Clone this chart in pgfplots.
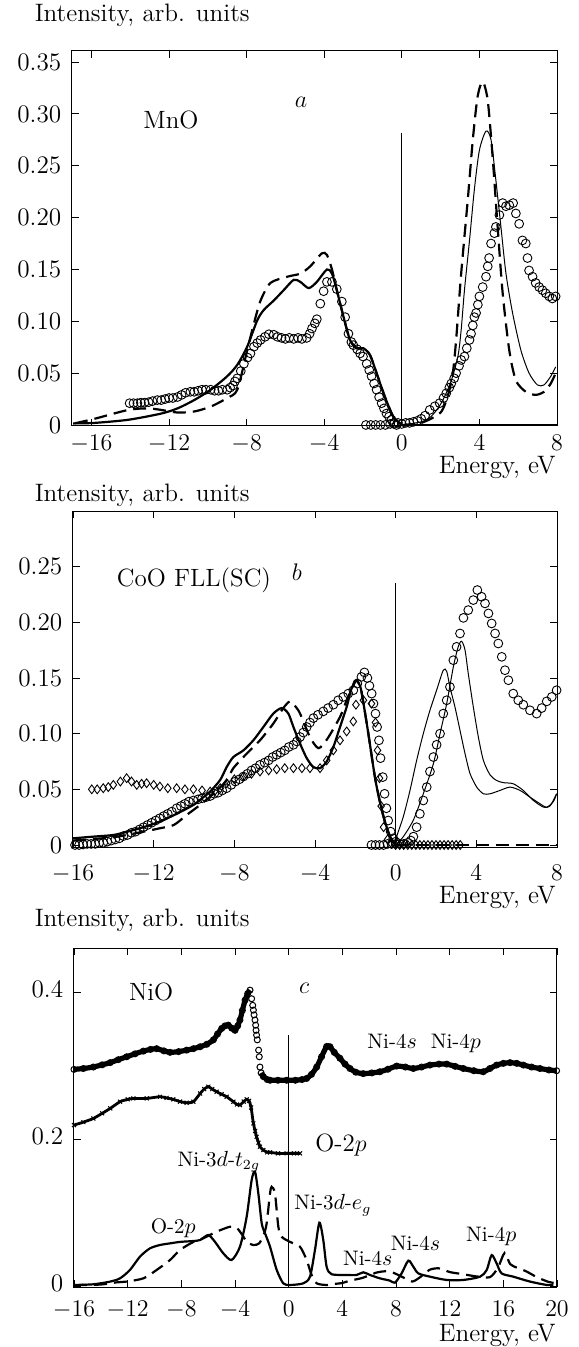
\documentclass[border=0pt]{standalone}
\usepackage{pgfplots}
\pgfplotsset{compat=1.18}
\newcommand{\bigf}{\fontsize{12.6}{15}\selectfont}
\newcommand{\midf}{\fontsize{12.5}{15}\selectfont}
\newcommand{\smf}{\fontsize{10.5}{12.5}\selectfont}
\pgfplotsset{
 panel/.style={scale only axis, anchor=south west, clip=false, tick align=inside,
   major tick length=3.5pt, every tick/.style={black, line width=0.45pt},
   axis line style={line width=0.5pt}, xtick pos=both, ytick pos=both,
   ticklabel style={font=\bigf, inner sep=1.5pt},
   yticklabel style={xshift=-3.7pt}},
 thk/.style={black, line width=1.1pt, smooth, tension=0.45, no marks},
 thn/.style={black, line width=0.5pt, smooth, tension=0.45, no marks},
 dsh/.style={black, line width=1.1pt, dash pattern=on 6.5pt off 3.5pt, smooth, tension=0.45, no marks},
 circ/.style={only marks, mark=o, mark size=2.2pt, mark options={line width=0.45pt, black}},
 diam/.style={only marks, mark=diamond, mark size=2.2pt, mark options={line width=0.45pt, black}},
}
\begin{document}
\begin{tikzpicture}
\useasboundingbox (0,0) rectangle (289pt,-673.5pt);
\tikzset{lbl/.style={font=\bigf, inner sep=1pt}}
\node[lbl, anchor=west] at (16.2pt,-7.8pt) {Intensity, arb. units};
\node[lbl, anchor=east] at (279pt,-233.5pt) {Energy, eV};
\node[lbl, anchor=west] at (16.2pt,-247.5pt) {Intensity, arb. units};
\node[lbl, anchor=east] at (279pt,-448.5pt) {Energy, eV};
\node[lbl, anchor=west] at (16.2pt,-460pt) {Intensity, arb. units};
\node[lbl, anchor=east] at (279pt,-667.5pt) {Energy, eV};

% ---------------- panel a ----------------
\begin{axis}[panel, at={(36pt,-213pt)}, width=242.5pt, height=187.5pt,
  xmin=-17, xmax=8, ymin=-0.001, ymax=0.3607,
  xtick={-16,-12,-8,-4,0,4,8},
  xticklabel style={yshift=-2.7pt},
  ytick={0,0.05,0.10,0.15,0.20,0.25,0.30,0.35},
  yticklabels={0,0.05,0.10,0.15,0.20,0.25,0.30,0.35}]
\addplot[black, line width=0.5pt] coordinates {(0,0) (0,0.2816)};
\node[font=\midf] at (axis cs:-11.9,0.294) {MnO};
\node[font=\midf] at (axis cs:-5.2,0.311) {$a$};
\addplot[thk] coordinates {(-16.94,0.0015) (-15.83,0.002) (-14.1,0.005) (-12.4,0.011) (-11.56,0.016) (-10.7,0.024) (-9.85,0.034) (-9.0,0.047) (-8.48,0.058) (-7.97,0.0755) (-7.45,0.101) (-7.11,0.111) (-6.6,0.120) (-6.09,0.130) (-5.57,0.140) (-5.23,0.138) (-4.8,0.132) (-4.38,0.138) (-3.86,0.150) (-3.6,0.146) (-3.35,0.130) (-3.0,0.104) (-2.67,0.082) (-2.32,0.074) (-1.98,0.074) (-1.64,0.0675) (-1.3,0.050) (-0.87,0.027) (-0.44,0.008) (-0.1,0.0016) (0,0)};
\addplot[black, line width=1.1pt] coordinates {(0,0) (8,0)};
\addplot[dsh] coordinates {(-16.85,0.0016) (-15.83,0.006) (-14.1,0.0145) (-13.1,0.016) (-12.4,0.0145) (-11.56,0.012) (-10.7,0.013) (-9.85,0.0177) (-9.0,0.026) (-8.48,0.034) (-7.97,0.072) (-7.62,0.098) (-7.28,0.12) (-6.77,0.137) (-5.9,0.143) (-5.23,0.146) (-4.72,0.153) (-4.12,0.1655) (-3.86,0.164) (-3.6,0.150) (-3.35,0.130) (-3.0,0.104) (-2.67,0.082) (-2.32,0.074) (-1.98,0.074) (-1.64,0.0675) (-1.3,0.050) (-0.87,0.027) (-0.44,0.008) (0,0)};
\addplot[thn] coordinates {(0,0) (1,0.003) (1.5,0.008) (2,0.02) (2.5,0.04) (2.89,0.066) (3.06,0.0916) (3.23,0.130) (3.49,0.178) (3.74,0.227) (4.0,0.265) (4.34,0.2835) (4.6,0.275) (4.85,0.236) (5.11,0.191) (5.37,0.146) (5.71,0.108) (6.14,0.072) (6.56,0.050) (6.99,0.0386) (7.33,0.0386) (7.68,0.047) (7.93,0.056)};
\addplot[dsh] coordinates {(0,0) (1,0.002) (2,0.012) (2.4,0.03) (2.63,0.05) (2.8,0.082) (3.06,0.146) (3.4,0.217) (3.66,0.275) (3.91,0.317) (4.17,0.331) (4.43,0.313) (4.68,0.259) (4.94,0.191) (5.2,0.127) (5.54,0.072) (5.88,0.043) (6.39,0.032) (6.9,0.029) (7.33,0.032) (7.68,0.040) (7.93,0.050)};
\addplot[circ] coordinates {(-14.03,0.021) (-13.83,0.021) (-13.63,0.021) (-13.45,0.0215) (-13.26,0.0215) (-13.05,0.022) (-12.85,0.023) (-12.6,0.024) (-12.4,0.024) (-12.2,0.025) (-12.0,0.026) (-11.8,0.026) (-11.56,0.027) (-11.35,0.029) (-11.15,0.031) (-10.9,0.032) (-10.7,0.032) (-10.5,0.033) (-10.3,0.034) (-10.1,0.034) (-9.85,0.034) (-9.65,0.033) (-9.45,0.033) (-9.25,0.034) (-9.0,0.034) (-8.85,0.036) (-8.7,0.038) (-8.6,0.042) (-8.48,0.045) (-8.3,0.052) (-8.14,0.059) (-7.95,0.065) (-7.8,0.069) (-7.62,0.0755) (-7.45,0.079) (-7.28,0.082) (-7.05,0.085) (-6.85,0.0875) (-6.6,0.087) (-6.4,0.085) (-6.2,0.084) (-6.0,0.083) (-5.8,0.084) (-5.57,0.083) (-5.35,0.084) (-5.15,0.083) (-4.9,0.084) (-4.75,0.088) (-4.63,0.093) (-4.48,0.098) (-4.38,0.102) (-4.2,0.117) (-4.03,0.129) (-3.86,0.138) (-3.6,0.138) (-3.35,0.131) (-3.09,0.119) (-2.92,0.104) (-2.75,0.088) (-2.6,0.080) (-2.5,0.077) (-2.3,0.073) (-2.15,0.069) (-2.0,0.066) (-1.81,0.059) (-1.68,0.053) (-1.56,0.047) (-1.43,0.040) (-1.3,0.034) (-1.17,0.027) (-1.04,0.021) (-0.92,0.016) (-0.79,0.011) (-0.66,0.008) (-0.53,0.005) (-0.4,0.002) (-0.27,0)};
\addplot[circ] coordinates {(-1.85,0) (-1.6,0) (-1.35,0) (-1.1,0) (-0.85,0) (-0.6,0.001) (-0.4,0.001) (-0.2,0.002) (0,0.001) (0.2,0.002) (0.4,0.002) (0.6,0.003) (0.8,0.004) (1.0,0.006) (1.2,0.009) (1.44,0.0145) (1.7,0.018) (1.95,0.021) (2.15,0.026) (2.29,0.0305) (2.45,0.036) (2.55,0.040) (2.7,0.045) (2.8,0.050) (2.95,0.057) (3.06,0.0627) (3.23,0.066) (3.35,0.074) (3.49,0.082) (3.57,0.088) (3.66,0.096) (3.74,0.104) (3.83,0.108) (3.92,0.116) (4.0,0.124) (4.17,0.133) (4.34,0.143) (4.43,0.153) (4.5,0.161) (4.6,0.175) (4.77,0.185) (4.85,0.191) (5.03,0.2025) (5.2,0.214) (5.37,0.211) (5.54,0.212) (5.74,0.214) (5.88,0.204) (6.05,0.194) (6.22,0.178) (6.39,0.175) (6.48,0.161) (6.56,0.149) (6.74,0.143) (6.9,0.137) (7.08,0.133) (7.25,0.130) (7.42,0.127) (7.6,0.124) (7.76,0.122) (7.93,0.124)};
\end{axis}

% ---------------- panel b ----------------
\begin{axis}[panel, at={(36.5pt,-423.5pt)}, width=242pt, height=168pt,
  xmin=-16, xmax=8, ymin=-0.0018, ymax=0.30,
  xtick={-16,-12,-8,-4,0,4,8},
  xticklabel style={yshift=-7.2pt},
  ytick={0,0.05,0.10,0.15,0.20,0.25},
  yticklabels={0,0.05,0.10,0.15,0.20,0.25}]
\addplot[black, line width=0.5pt] coordinates {(0,0) (0,0.2356)};
\node[font=\midf] at (axis cs:-10.0,0.238) {CoO FLL(SC)};
\node[font=\midf] at (axis cs:-4.9,0.245) {$b$};
\addplot[thk] coordinates {(-16,0.006) (-15.0,0.0075) (-14.0,0.009) (-13.3,0.012) (-12.5,0.016) (-11.7,0.021) (-10.86,0.028) (-10.03,0.036) (-9.6,0.042) (-9.2,0.048) (-8.7,0.0585) (-8.38,0.070) (-8.05,0.079) (-7.55,0.085) (-7.06,0.094) (-6.56,0.106) (-6.07,0.118) (-5.65,0.123) (-5.32,0.118) (-5.07,0.106) (-4.74,0.091) (-4.41,0.078) (-4.08,0.070) (-3.75,0.069) (-3.42,0.075) (-3.09,0.088) (-2.76,0.106) (-2.43,0.124) (-2.2,0.140) (-1.95,0.148) (-1.75,0.142) (-1.65,0.133) (-1.38,0.103) (-1.0,0.058) (-0.64,0.028) (-0.28,0.0075) (0,0)};
\addplot[dsh] coordinates {(-16,0.004) (-14,0.007) (-12.5,0.012) (-11.7,0.015) (-11.0,0.018) (-10.36,0.027) (-9.7,0.036) (-9.04,0.046) (-8.38,0.058) (-8.05,0.069) (-7.39,0.082) (-6.73,0.094) (-6.07,0.109) (-5.57,0.123) (-5.24,0.129) (-4.95,0.124) (-4.74,0.118) (-4.25,0.097) (-3.83,0.087) (-3.4,0.095) (-2.76,0.115) (-2.43,0.130) (-2.1,0.143) (-1.95,0.148) (-1.75,0.142) (-1.65,0.133) (-1.38,0.103) (-1.0,0.058) (-0.64,0.028) (-0.28,0.0075) (0,0)};
\addplot[black, line width=1.1pt, dash pattern=on 6.5pt off 3.5pt] coordinates {(0,0) (8,0)};
\addplot[thn] coordinates {(0,0) (0.05,0.0075) (0.38,0.0255) (0.71,0.049) (1.04,0.076) (1.37,0.10) (1.7,0.121) (2.03,0.139) (2.36,0.157) (2.53,0.156) (2.69,0.142) (2.94,0.124) (3.19,0.103) (3.44,0.082) (3.69,0.064) (4.02,0.052) (4.35,0.046) (4.68,0.046) (5.17,0.049) (5.67,0.052) (6.17,0.049) (6.66,0.043) (7.16,0.037) (7.49,0.034) (7.82,0.039) (7.98,0.046)};
\addplot[thn] coordinates {(0,0) (0.38,0.0075) (0.88,0.0225) (1.37,0.046) (1.87,0.073) (2.2,0.10) (2.53,0.127) (2.86,0.160) (3.1,0.178) (3.27,0.183) (3.44,0.175) (3.6,0.154) (3.85,0.124) (4.1,0.097) (4.35,0.076) (4.68,0.063) (5.0,0.058) (5.34,0.056) (5.83,0.055) (6.33,0.049) (6.83,0.040) (7.33,0.034) (7.65,0.035) (7.98,0.046)};
\addplot[diam] coordinates {(-15.07,0.050) (-14.8,0.050) (-14.5,0.051) (-14.25,0.052) (-14.0,0.054) (-13.65,0.057) (-13.34,0.060) (-13.1,0.057) (-12.84,0.054) (-12.6,0.055) (-12.35,0.0555) (-12.0,0.054) (-11.69,0.0525) (-11.3,0.051) (-10.86,0.051) (-10.45,0.050) (-10.03,0.050) (-9.6,0.049) (-9.2,0.048) (-8.95,0.049) (-8.7,0.051) (-8.38,0.0555) (-8.0,0.059) (-7.55,0.0615) (-7.15,0.064) (-6.73,0.066) (-6.3,0.067) (-5.9,0.068) (-5.5,0.069) (-5.07,0.069) (-4.65,0.069) (-4.25,0.069) (-3.75,0.069) (-3.42,0.076) (-3.09,0.085) (-2.76,0.094) (-2.43,0.102) (-2.1,0.111) (-1.97,0.126) (-1.6,0.130) (-1.2,0.127) (-1.0,0.110) (-0.9,0.085) (-0.8,0.060) (-0.72,0.035) (-0.6,0.016) (-0.4,0.005) (-0.2,0.001) (0,0) (0.2,0) (0.4,0) (0.6,0) (0.8,0) (1.0,0) (1.2,0) (1.4,0) (1.6,0) (1.8,0) (2.0,0) (2.2,0) (2.4,0) (2.6,0) (2.8,0) (3.0,0) (3.2,0)};
\addplot[circ] coordinates {(-15.9,0) (-15.7,0) (-15.5,0.0005) (-15.3,0.001) (-15.1,0.001) (-14.9,0.001) (-14.7,0.002) (-14.5,0.002) (-14.3,0.003) (-14.1,0.004) (-13.9,0.005) (-13.7,0.006) (-13.5,0.008) (-13.3,0.009) (-13.1,0.011) (-12.9,0.012) (-12.7,0.014) (-12.5,0.016) (-12.3,0.018) (-12.1,0.020) (-11.9,0.022) (-11.7,0.024) (-11.5,0.026) (-11.3,0.028) (-11.1,0.030) (-10.86,0.033) (-10.65,0.035) (-10.45,0.037) (-10.25,0.039) (-10.03,0.040) (-9.8,0.041) (-9.6,0.042) (-9.4,0.043) (-9.2,0.044) (-9.0,0.046) (-8.8,0.047) (-8.6,0.049) (-8.38,0.051) (-8.15,0.054) (-7.95,0.057) (-7.75,0.059) (-7.55,0.0615) (-7.35,0.064) (-7.15,0.067) (-6.95,0.069) (-6.73,0.072) (-6.5,0.074) (-6.3,0.076) (-6.1,0.079) (-5.9,0.081) (-5.7,0.083) (-5.5,0.085) (-5.3,0.088) (-5.07,0.090) (-4.9,0.093) (-4.74,0.097) (-4.58,0.101) (-4.41,0.106) (-4.25,0.110) (-4.08,0.114) (-3.85,0.117) (-3.59,0.120) (-3.35,0.123) (-3.09,0.126) (-2.85,0.130) (-2.6,0.133) (-2.35,0.136) (-2.1,0.139) (-1.9,0.145) (-1.7,0.151) (-1.55,0.155) (-1.4,0.150) (-1.3,0.143) (-1.19,0.136) (-1.1,0.127) (-1.0,0.118) (-0.92,0.106) (-0.83,0.094) (-0.75,0.078) (-0.64,0.061) (-0.55,0.046) (-0.46,0.033) (-0.37,0.022) (-0.25,0.012) (-0.12,0.006) (0,0.003)};
\addplot[circ] coordinates {(-1.2,0) (-1.0,0) (-0.8,0) (-0.6,0) (-0.4,0.001) (-0.2,0.001) (0,0.001) (0.2,0.001) (0.4,0.001) (0.6,0.002) (0.75,0.004) (0.88,0.0075) (1.04,0.016) (1.2,0.028) (1.37,0.040) (1.54,0.052) (1.7,0.066) (1.87,0.079) (2.03,0.090) (2.2,0.100) (2.36,0.118) (2.53,0.130) (2.69,0.142) (2.86,0.166) (3.02,0.178) (3.19,0.190) (3.36,0.204) (3.6,0.211) (3.85,0.220) (4.05,0.229) (4.26,0.223) (4.43,0.217) (4.6,0.208) (4.76,0.199) (4.93,0.190) (5.09,0.181) (5.26,0.169) (5.42,0.157) (5.59,0.148) (5.83,0.136) (6.08,0.130) (6.33,0.126) (6.66,0.121) (6.99,0.118) (7.24,0.123) (7.49,0.129) (7.74,0.133) (7.98,0.139)};
\end{axis}

% ---------------- panel c ----------------
\begin{axis}[panel, at={(37pt,-643.5pt)}, width=241.5pt, height=169.5pt,
  xmin=-16, xmax=20, ymin=-0.0014, ymax=0.46,
  xtick={-16,-12,-8,-4,0,4,8,12,16,20},
  xticklabel style={yshift=-5.5pt},
  yticklabel style={yshift=1.5pt},
  ytick={0,0.2,0.4}, yticklabels={0,0.2,0.4}]
\addplot[black, line width=0.5pt] coordinates {(0,0) (0,0.341)};
\node[font=\midf] at (axis cs:-10.25,0.4) {NiO};
\node[font=\midf] at (axis cs:1.16,0.405) {$c$};
\node[font=\smf] at (axis cs:10.1,0.33) {Ni-4$s$\ \ Ni-4$p$};
\node[font=\midf] at (axis cs:3.9,0.192) {O-2$p$};
\node[font=\smf] at (axis cs:-5.2,0.169) {Ni-3$d$-$t_{2g}$};
\node[font=\smf] at (axis cs:3.3,0.110) {Ni-3$d$-$e_g$};
\node[font=\smf] at (axis cs:-8.6,0.079) {O-2$p$};
\node[font=\smf] at (axis cs:5.9,0.038) {Ni-4$s$};
\node[font=\smf] at (axis cs:9.45,0.058) {Ni-4$s$};
\node[font=\smf] at (axis cs:15.1,0.067) {Ni-4$p$};
% top curve (dense circles)
\addplot[black, line width=2.6pt, smooth, tension=0.4, mark=o, mark size=1.5pt, mark options={line width=0.5pt}] coordinates {(-16,0.2948) (-15.3,0.296) (-14.56,0.298) (-13.9,0.301) (-13.3,0.304) (-12.7,0.308) (-12.07,0.312) (-11.45,0.316) (-10.83,0.3197) (-10.3,0.322) (-9.84,0.323) (-9.3,0.320) (-8.84,0.318) (-8.2,0.319) (-7.6,0.321) (-7.1,0.323) (-6.6,0.3256) (-6.1,0.329) (-5.61,0.335) (-5.3,0.343) (-4.99,0.3506) (-4.75,0.354) (-4.5,0.355) (-4.25,0.351) (-4.0,0.348) (-3.8,0.354) (-3.63,0.362) (-3.45,0.375) (-3.25,0.389) (-3.05,0.398) (-2.88,0.4027)};
\addplot[only marks, mark=o, mark size=1.5pt, mark options={black, line width=0.5pt}] coordinates {(-2.76,0.391) (-2.68,0.382) (-2.63,0.3755) (-2.58,0.369) (-2.51,0.362) (-2.46,0.355) (-2.43,0.348) (-2.39,0.3415) (-2.34,0.335) (-2.24,0.321) (-2.19,0.312) (-2.14,0.298)};
\addplot[black, line width=2.6pt, smooth, tension=0.4, mark=o, mark size=1.5pt, mark options={line width=0.5pt}] coordinates {(-2.05,0.29) (-1.89,0.285) (-1.6,0.281) (-1.39,0.280) (-0.8,0.280) (-0.15,0.280) (0.5,0.280) (1.0,0.281) (1.34,0.2825) (1.7,0.288) (2.09,0.298) (2.45,0.312) (2.83,0.326) (3.08,0.3256) (3.4,0.318) (3.82,0.31) (4.2,0.302) (4.57,0.296) (5.0,0.291) (5.56,0.289) (6.2,0.290) (6.8,0.2916) (7.4,0.295) (8.05,0.2993) (8.7,0.298) (9.29,0.296) (9.9,0.298) (10.53,0.3007) (11.2,0.302) (11.78,0.302) (12.4,0.299) (13.02,0.296) (13.8,0.293) (14.5,0.2916) (15.0,0.296) (15.5,0.3007) (16.0,0.303) (16.5,0.304) (17.0,0.303) (17.49,0.3007) (18.1,0.298) (18.73,0.296) (19.4,0.294) (19.97,0.293)};
% O-2p XES (crosses)
\addplot[black, line width=1.4pt, smooth, tension=0.4, mark=x, mark size=1.4pt, mark options={line width=0.5pt}] coordinates {(-16,0.219) (-15.3,0.223) (-14.56,0.228) (-13.9,0.235) (-13.3,0.2417) (-12.57,0.2508) (-12.0,0.254) (-11.58,0.2553) (-10.58,0.2553) (-9.59,0.2576) (-9.1,0.256) (-8.6,0.254) (-8.1,0.251) (-7.6,0.2494) (-7.1,0.2508) (-6.6,0.262) (-6.3,0.268) (-5.99,0.2712) (-5.7,0.268) (-5.37,0.2644) (-5.0,0.261) (-4.62,0.2576) (-4.12,0.2508) (-3.85,0.247) (-3.63,0.2463) (-3.35,0.251) (-3.13,0.254) (-2.95,0.252) (-2.8,0.243) (-2.63,0.2213) (-2.5,0.211) (-2.39,0.203) (-2.25,0.195) (-2.14,0.1896) (-1.89,0.185) (-1.6,0.182) (-1.39,0.1819) (-0.8,0.1805) (-0.15,0.1805) (0.4,0.1805) (0.84,0.1805)};
% calculated
\addplot[thk] coordinates {(-16,0.0014) (-14.56,0.0023) (-13.3,0.006) (-12.57,0.0104) (-11.83,0.0218) (-11.08,0.040) (-10.34,0.0512) (-9.59,0.0558) (-8.84,0.058) (-8.1,0.060) (-7.1,0.0612) (-6.6,0.0626) (-5.99,0.0694) (-5.49,0.060) (-4.87,0.0444) (-4.25,0.0354) (-3.63,0.0535) (-3.13,0.0943) (-2.76,0.144) (-2.51,0.1556) (-2.26,0.126) (-2.01,0.0853) (-1.76,0.0717) (-1.39,0.0535) (-0.89,0.0218) (-0.4,0.0036) (0.1,0.0014) (1.09,0.0036) (1.59,0.0127) (1.96,0.049) (2.29,0.0862) (2.58,0.0626) (2.83,0.0263) (3.2,0.016) (4.32,0.015) (5.06,0.015) (5.56,0.0186) (6.06,0.015) (6.8,0.0104) (7.55,0.0073) (7.92,0.0045) (8.42,0.0172) (8.92,0.0345) (9.29,0.0263) (9.66,0.0172) (10.53,0.0127) (11.78,0.0082) (13.02,0.0082) (14.27,0.0127) (14.76,0.0218) (15.13,0.042) (15.5,0.0308) (15.87,0.0172) (16.74,0.0127) (17.99,0.006) (19.23,0.0014) (19.73,0.0014)};
\addplot[dsh] coordinates {(-16,0.001) (-14,0.002) (-12.8,0.005) (-12.07,0.006) (-10.83,0.0104) (-9.84,0.0218) (-8.84,0.0354) (-8.1,0.049) (-7.1,0.060) (-6.36,0.0649) (-5.37,0.0739) (-4.37,0.0807) (-3.88,0.0794) (-3.4,0.068) (-3.13,0.060) (-2.63,0.0558) (-2.2,0.058) (-1.85,0.070) (-1.64,0.0853) (-1.39,0.126) (-1.27,0.135) (-1.02,0.126) (-0.77,0.0807) (-0.52,0.067) (0.1,0.060) (0.84,0.0535) (1.34,0.0354) (1.71,0.015) (2.09,0.0036) (2.83,0.0014) (3.5,0.003) (4.0,0.004) (4.5,0.007) (5.5,0.011) (6.5,0.018) (7.2,0.02) (7.8,0.018) (8.5,0.012) (9.2,0.006) (9.8,0.012) (10.5,0.022) (11.2,0.024) (12.0,0.019) (13.0,0.016) (14.0,0.013) (15.0,0.012) (15.6,0.025) (16.1,0.045) (16.5,0.03) (17.0,0.025) (17.7,0.02) (18.5,0.012) (19.3,0.006) (19.8,0.004)};
\end{axis}
\end{tikzpicture}
\end{document}
